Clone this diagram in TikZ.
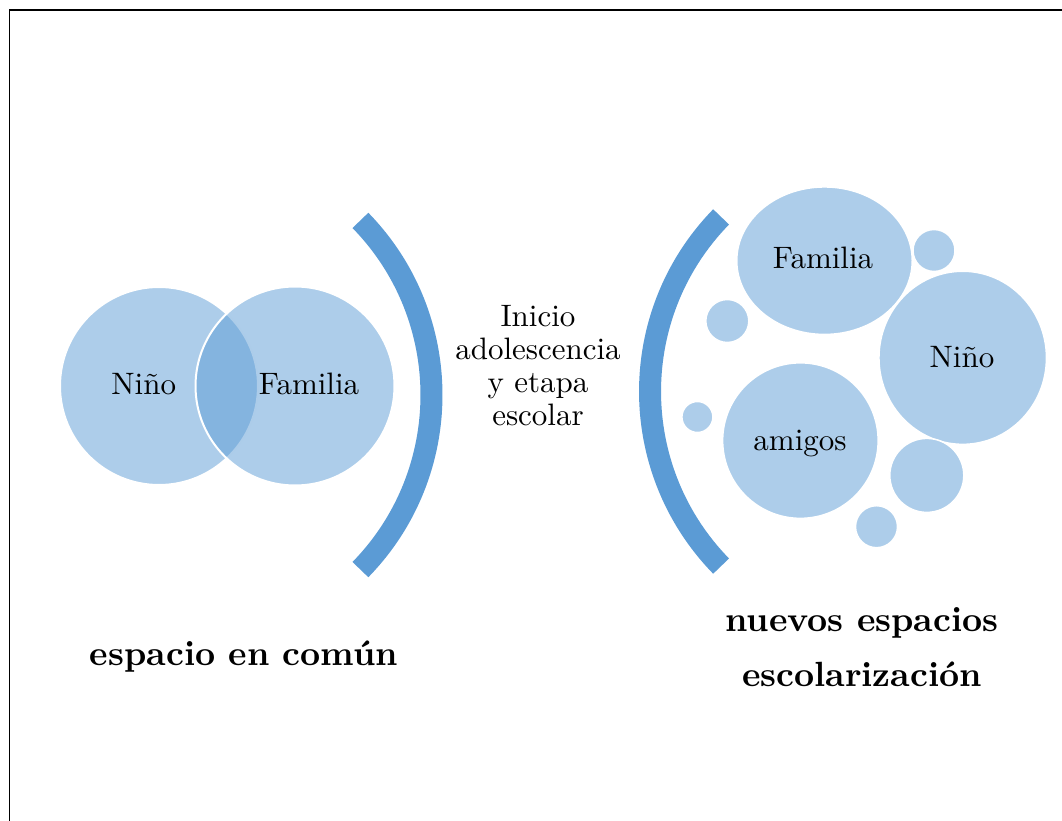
\documentclass[tikz,border=0pt]{standalone}
\usepackage{fontspec}
\setmainfont{lmroman10-regular.otf}[BoldFont=lmroman10-bold.otf]
\usetikzlibrary{shapes.geometric}
\definecolor{officeblue}{RGB}{91,155,213}
\tikzset{
  bubble/.style={circle, inner sep=0pt, outer sep=0pt, fill=officeblue, fill opacity=0.5, draw=white, draw opacity=1, line width=2pt},
  ebubble/.style={ellipse, inner sep=0pt, outer sep=0pt, fill=officeblue, fill opacity=0.5, draw=white, draw opacity=1, line width=2pt},
  lbl/.style={anchor=base, inner sep=0pt, font=\fontsize{31}{33}\selectfont},
  bigtxt/.style={anchor=base, inner sep=0pt, font=\fontsize{35}{54}\selectfont\bfseries},
  bracket/.style={draw=officeblue, line width=22pt, line cap=butt}
}
\begin{document}
\begin{tikzpicture}[x=1pt,y=1pt]
\useasboundingbox (0,0) rectangle (1062,820);
\clip (0,0) rectangle (1062,820);
% frame
\coordinate (fa) at (9.5,-10);
\coordinate (fb) at (9.5,810);
\coordinate (fc) at (1075,810);
\draw[line width=1.5pt] (fa) -- (fb) -- (fc);

% left circles
\node[bubble, minimum size=198pt] (ninoL) at (159,434) {};
\node[bubble, minimum size=199pt] (famL) at (295,434) {};
\node[lbl] (tninoL) at (143.7,425) {Niño};
\node[lbl] (tfamL) at (309,425) {Familia};

% brackets
\coordinate (cL) at (181.5,425);
\coordinate (cR) at (900,428.5);
\draw[bracket] (cL) ++(-44.3:250) arc[start angle=-44.3, end angle=44.3, radius=250];
\draw[bracket] (cR) ++(135.7:250) arc[start angle=135.7, end angle=224.3, radius=250];

% middle text
\node[inner sep=0pt, align=center, font=\fontsize{31}{33}\selectfont] (mid) at (538,454)
  {Inicio\\adolescencia\\y etapa\\escolar};

% right bubbles
\node[ebubble, minimum width=176pt, minimum height=148pt] (famR) at (824.5,559.3) {};
\node[ebubble, minimum width=168pt, minimum height=173.6pt] (ninoR) at (962.7,462.2) {};
\node[bubble, minimum size=156pt] (amigos) at (800.4,379.4) {};
\node[bubble, minimum size=42pt, line width=1.5pt] (s1) at (934,569.5) {};
\node[bubble, minimum size=43pt, line width=1.5pt] (s2) at (727.3,499) {};
\node[bubble, minimum size=31pt, line width=1.5pt] (s3) at (697.4,403) {};
\node[bubble, minimum size=74pt, line width=1.5pt] (s4) at (926.8,344.6) {};
\node[bubble, minimum size=42pt, line width=1.5pt] (s5) at (876.5,293.3) {};
\node[lbl] (tfamR) at (823,551) {Familia};
\node[lbl] (tninoR) at (962,452.3) {Niño};
\node[lbl] (tamigos) at (800,370) {amigos};

% bottom labels
\node[bigtxt] (comun) at (244,155) {espacio en común};
\node[bigtxt] (nuevos) at (862,189) {nuevos espacios};
\node[bigtxt] (escol) at (862,134) {escolarización};
\end{tikzpicture}
\end{document}
